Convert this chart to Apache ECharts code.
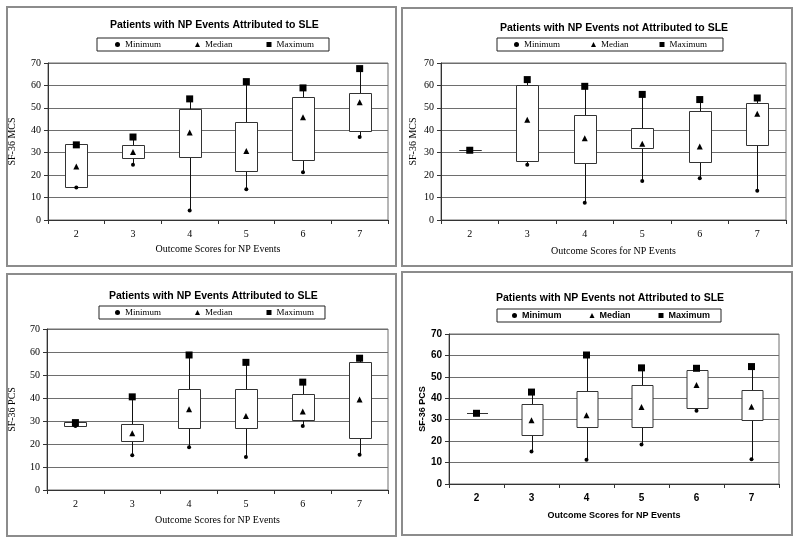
<!DOCTYPE html>
<html>
<head>
<meta charset="utf-8">
<script src="https://cdn.jsdelivr.net/npm/echarts@6/dist/echarts.min.js"></script>
<style>
  html, body { margin: 0; padding: 0; background: #fff; }
  #chart { width: 800px; height: 544px; }
</style>
</head>
<body>
<div id="chart"></div>
<script>
// categories (outcome scores)
const categories = ['2', '3', '4', '5', '6', '7'];
const yTicks = [0, 10, 20, 30, 40, 50, 60, 70];

// SF-36 MCS, NP events attributed to SLE
const mcsAttrMin = [14.5, 24.6, 4.2, 13.7, 21.3, 37.0];
const mcsAttrQ1  = [14.5, 27.6, 28.3, 21.9, 26.8, 39.9];
const mcsAttrMed = [23.8, 30.3, 39.0, 30.8, 45.8, 52.5];
const mcsAttrQ3  = [33.8, 33.5, 49.6, 43.5, 54.7, 56.6];
const mcsAttrMax = [33.5, 37.0, 54.0, 61.7, 58.9, 67.5];

// SF-36 MCS, NP events not attributed to SLE
const mcsNotMin = [31.3, 24.6, 7.7, 17.4, 18.6, 13.0];
const mcsNotQ1  = [31.4, 26.1, 25.3, 31.9, 25.9, 33.5];
const mcsNotMed = [31.3, 44.7, 36.5, 34.0, 32.8, 47.4];
const mcsNotQ3  = [31.4, 60.1, 46.6, 41.0, 48.6, 52.0];
const mcsNotMax = [31.1, 62.6, 59.6, 56.0, 53.7, 54.4];

// SF-36 PCS, NP events attributed to SLE
const pcsAttrMin = [27.8, 15.1, 18.6, 14.3, 27.8, 15.3];
const pcsAttrQ1  = [27.7, 21.5, 27.1, 26.9, 30.6, 22.6];
const pcsAttrMed = [28.8, 24.7, 35.1, 32.2, 34.1, 39.3];
const pcsAttrQ3  = [29.5, 28.5, 43.7, 44.1, 41.9, 55.5];
const pcsAttrMax = [29.3, 40.5, 58.7, 55.5, 46.9, 57.3];

// SF-36 PCS, NP events not attributed to SLE
const pcsNotMin = [33.2, 15.2, 11.3, 18.4, 34.2, 11.5];
const pcsNotQ1  = [33.3, 22.8, 26.5, 26.6, 35.5, 30.0];
const pcsNotMed = [33.1, 29.7, 32.1, 35.9, 46.2, 36.1];
const pcsNotQ3  = [33.3, 37.5, 43.4, 46.2, 53.3, 44.0];
const pcsNotMax = [33.0, 42.9, 60.2, 54.2, 54.0, 54.8];

const titleAttr = 'Patients with NP Events Attributed to SLE';
const titleNot = 'Patients with NP Events not Attributed to SLE';
const xName = 'Outcome Scores for NP Events';

const SERIF = 'Liberation Serif';
const SANS = 'Liberation Sans';
const GRID_COLOR = '#6e6e6e';

// panel layout
const panels = [
    { title: titleAttr, yName: 'SF-36 MCS', min: mcsAttrMin, q1: mcsAttrQ1, med: mcsAttrMed, q3: mcsAttrQ3, max: mcsAttrMax,
      grid: { left: 48, right: 412, top: 63, bottom: 324 }, titlePos: [110, 20],
      legend: { left: 97, top: 38, gap: 34, pad: [2, 15, 2, 18] }, yGap: 31, xGap: 24, bold: false },
    { title: titleNot, yName: 'SF-36 MCS', min: mcsNotMin, q1: mcsNotQ1, med: mcsNotMed, q3: mcsNotQ3, max: mcsNotMax,
      grid: { left: 441, right: 14, top: 63, bottom: 324 }, titlePos: [500, 23],
      legend: { left: 497, top: 38, gap: 31, pad: [2, 16, 2, 17] }, yGap: 23, xGap: 26, bold: false },
    { title: titleAttr, yName: 'SF-36 PCS', min: pcsAttrMin, q1: pcsAttrQ1, med: pcsAttrMed, q3: pcsAttrQ3, max: pcsAttrMax,
      grid: { left: 47, right: 412, top: 329, bottom: 54 }, titlePos: [109, 291],
      legend: { left: 99, top: 306, gap: 34, pad: [2, 11, 2, 16] }, yGap: 30, xGap: 25, bold: false },
    { title: titleNot, yName: 'SF-36 PCS', min: pcsNotMin, q1: pcsNotQ1, med: pcsNotMed, q3: pcsNotQ3, max: pcsNotMax,
      grid: { left: 449, right: 21, top: 334, bottom: 60 }, titlePos: [496, 293],
      legend: { left: 497, top: 309, gap: 28, pad: [2, 11, 2, 15] }, yGap: 21, xGap: 27, bold: true }
];

// box + whiskers drawn from the axis scales
function renderBox(params, api) {
    const x = api.value(0);
    const pQ1 = api.coord([x, api.value(1)]);
    const pQ3 = api.coord([x, api.value(2)]);
    const pMin = api.coord([x, api.value(3)]);
    const pMax = api.coord([x, api.value(4)]);
    const w = Math.round(api.size([1, 0])[0] * 0.39);
    const cx = Math.round(pQ1[0]) + 0.5;
    const yTop = Math.round(pQ3[1]) + 0.5;
    const yBot = Math.round(pQ1[1]) + 0.5;
    const line = { stroke: '#111', lineWidth: 1 };
    return {
        type: 'group',
        children: [
            { type: 'line', shape: { x1: cx, y1: pMin[1], x2: cx, y2: yBot }, style: line },
            { type: 'line', shape: { x1: cx, y1: yTop, x2: cx, y2: pMax[1] }, style: line },
            { type: 'rect', shape: { x: cx - w / 2, y: yTop, width: w, height: yBot - yTop },
              style: { fill: '#fff', stroke: '#333', lineWidth: 1 } }
        ]
    };
}

const option = {
    animation: false,
    backgroundColor: '#fff',
    title: [], legend: [], grid: [], xAxis: [], yAxis: [], series: [],
    graphic: [
        { type: 'rect', shape: { x: 7, y: 7, width: 389, height: 259 }, style: { fill: 'none', stroke: '#8c8c8c', lineWidth: 2 } },
        { type: 'rect', shape: { x: 402, y: 8, width: 390, height: 258 }, style: { fill: 'none', stroke: '#8c8c8c', lineWidth: 2 } },
        { type: 'rect', shape: { x: 7, y: 274, width: 389, height: 262 }, style: { fill: 'none', stroke: '#8c8c8c', lineWidth: 2 } },
        { type: 'rect', shape: { x: 402, y: 272, width: 390, height: 263 }, style: { fill: 'none', stroke: '#8c8c8c', lineWidth: 2 } }
    ]
};

panels.forEach((p, i) => {
    const font = p.bold ? SANS : SERIF;
    const weight = p.bold ? 'bold' : 'normal';
    const nameSize = p.bold ? 9 : 10;
    const legendText = { fontFamily: font, fontWeight: weight, fontSize: 9, color: '#000' };

    option.title.push({
        text: p.title, left: p.titlePos[0], top: p.titlePos[1], padding: 0,
        textStyle: { fontFamily: SANS, fontWeight: 'bold', fontSize: 10.5, color: '#000' }
    });

    option.legend.push({
        left: p.legend.left, top: p.legend.top, padding: p.legend.pad,
        itemGap: p.legend.gap, itemWidth: 5, itemHeight: 5,
        borderColor: '#222', borderWidth: 1, borderRadius: 0,
        selectedMode: false, textStyle: legendText,
        data: [
            { name: 'Minimum', icon: 'circle' },
            { name: 'Median', icon: 'triangle' },
            { name: 'Maximum', icon: 'rect' }
        ]
    });

    option.grid.push(Object.assign({
        show: true, borderColor: GRID_COLOR, borderWidth: 1, backgroundColor: 'transparent'
    }, p.grid));

    option.xAxis.push({
        type: 'category', gridIndex: i, data: categories, boundaryGap: true,
        name: xName, nameLocation: 'middle', nameGap: p.xGap,
        nameTextStyle: { fontFamily: font, fontWeight: weight, fontSize: nameSize, color: '#000' },
        axisLine: { lineStyle: { color: '#333', width: 1 } },
        axisTick: { show: true, length: 4, lineStyle: { color: '#333' } },
        axisLabel: { fontFamily: font, fontWeight: weight, fontSize: 10, color: '#000', margin: 9 },
        splitLine: { show: false }
    });

    option.yAxis.push({
        type: 'value', gridIndex: i, min: yTicks[0], max: yTicks[yTicks.length - 1], interval: 10,
        name: p.yName, nameLocation: 'middle', nameGap: p.yGap, nameRotate: 90,
        nameTextStyle: { fontFamily: font, fontWeight: weight, fontSize: nameSize, color: '#000' },
        axisLine: { show: true, lineStyle: { color: '#333', width: 1 } },
        axisTick: { show: true, length: 4, lineStyle: { color: '#333' } },
        axisLabel: { fontFamily: font, fontWeight: weight, fontSize: 10, color: '#000', margin: 7 },
        splitLine: { show: true, lineStyle: { color: GRID_COLOR, width: 1 } }
    });

    option.series.push({
        type: 'custom', name: 'box' + i, xAxisIndex: i, yAxisIndex: i, z: 2,
        renderItem: renderBox,
        encode: { x: 0, y: [1, 2, 3, 4] },
        data: categories.map((c, k) => [k, p.q1[k], p.q3[k], p.min[k], p.max[k]]),
        silent: true
    });

    const marks = [
        { name: 'Minimum', symbol: 'circle', size: 4, values: p.min },
        { name: 'Median', symbol: 'triangle', size: 6, values: p.med },
        { name: 'Maximum', symbol: 'rect', size: 7, values: p.max }
    ];
    marks.forEach(m => {
        option.series.push({
            type: 'scatter', name: m.name, xAxisIndex: i, yAxisIndex: i, z: 3,
            symbol: m.symbol, symbolSize: m.size,
            itemStyle: { color: '#000', opacity: 1 },
            data: m.values
        });
    });
});

const chart = echarts.init(document.getElementById('chart'));
chart.setOption(option);
</script>
</body>
</html>
